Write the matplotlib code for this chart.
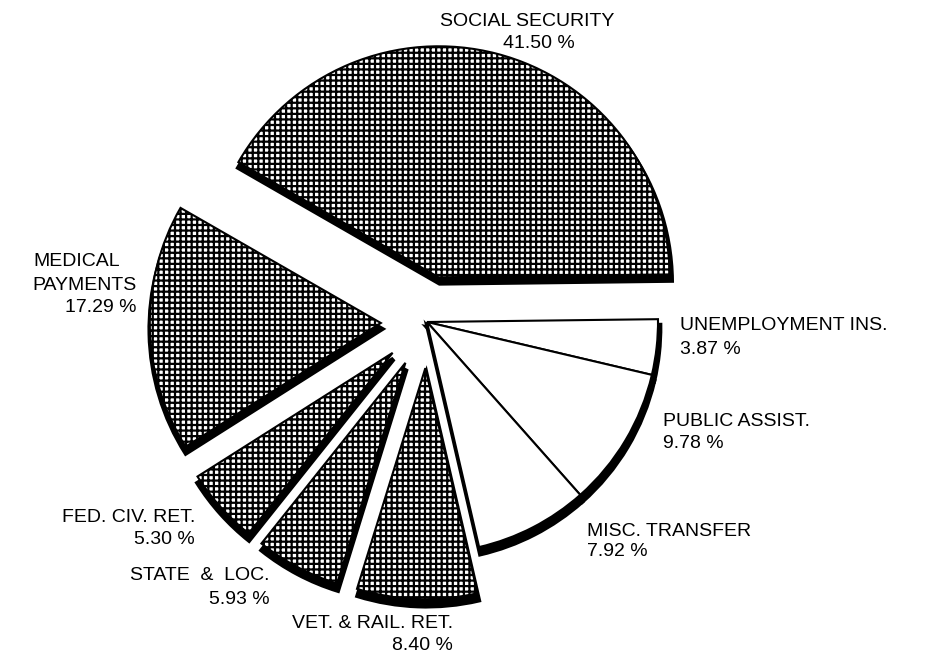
import matplotlib
matplotlib.use("Agg")
import matplotlib.pyplot as plt

# ---- data ----
categories = ["UNEMPLOYMENT INS.", "PUBLIC ASSIST.", "MISC. TRANSFER",
              "VET. & RAIL. RET.", "STATE  &  LOC.", "FED. CIV. RET.",
              "MEDICAL PAYMENTS", "SOCIAL SECURITY"]
shares = [3.87, 9.78, 7.92, 8.40, 5.93, 5.30, 17.29, 41.50]
hatched = [False, False, False, True, True, True, True, True]

plt.rcParams["font.family"] = ["Liberation Sans", "DejaVu Sans"]
plt.rcParams["hatch.linewidth"] = 1.6

W, H = 927, 653
fig = plt.figure(figsize=(W / 100, H / 100), dpi=100)
ax = fig.add_axes([0, 0, 1, 1])

R = 231
# explode given in data (pixel) units: matplotlib offsets wedges by this amount
explode = [0.0 if not h else 0.2 * R for h in hatched]
cx, cy = 427, H - 322
start = 0.7

# shadow (thickness) pie
ax.pie(shares, explode=explode, startangle=start, counterclock=False,
       center=(cx + 1, cy - 6), radius=R + 1, colors=["black"] * len(shares),
       wedgeprops=dict(edgecolor="black", linewidth=3.4), frame=True)
# main pie
ax.pie(shares, explode=explode, startangle=start, counterclock=False,
       center=(cx, cy), radius=R, colors=["white"] * len(shares),
       hatch=["+++" if h else "" for h in hatched],
       wedgeprops=dict(edgecolor="black", linewidth=1.5), frame=True)

ax.set_xlim(0, W)
ax.set_ylim(0, H)
ax.set_aspect("auto")
ax.axis("off")

fs = 14
pct = [f"{v:.2f} %" for v in shares]


def txt(x, y, s, ha):
    ax.text(x, H - y, s, ha=ha, va="center", fontsize=fs, color="black")


# labels (image-pixel positions)
txt(680, 326, categories[0], "left")
txt(680, 350, pct[0], "left")
txt(663, 422, categories[1], "left")
txt(663, 444, pct[1], "left")
txt(587, 531, categories[2], "left")
txt(587, 552, pct[2], "left")
txt(453, 623, categories[3], "right")
txt(453, 645, pct[3], "right")
txt(270, 576, categories[4], "right")
txt(270, 600, pct[4], "right")
txt(195, 517, categories[5], "right")
txt(195, 540, pct[5], "right")
med1, med2 = categories[6].split(" ")
txt(33, 262, med1, "left")
txt(137, 285, med2, "right")
txt(137, 308, pct[6], "right")
txt(527, 22, categories[7], "center")
txt(539, 44, pct[7], "center")

fig.savefig("out.png", dpi=100)
